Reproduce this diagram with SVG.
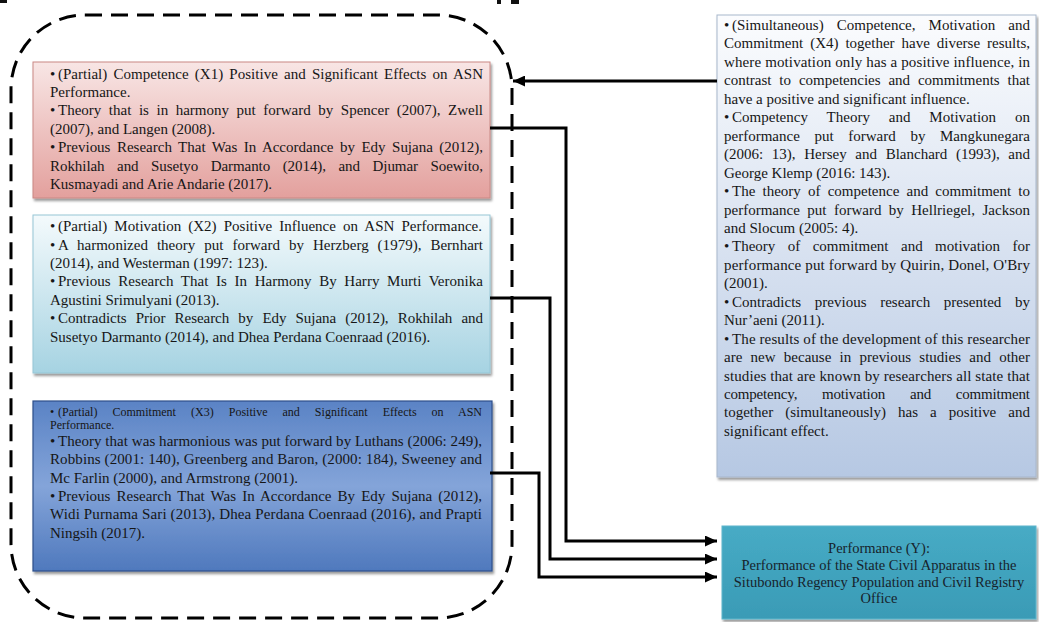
<svg xmlns="http://www.w3.org/2000/svg" width="1039" height="622" viewBox="0 0 1039 622">
<style>
.t{font-family:"Liberation Serif","Times New Roman",serif;font-size:15px;fill:#161616}
.s{font-family:"Liberation Serif","Times New Roman",serif;font-size:12px;fill:#161616}
.p{font-family:"Liberation Serif","Times New Roman",serif;font-size:14.5px;fill:#17232c;text-anchor:middle}
.ln{fill:none;stroke:#000;stroke-width:3}
</style>
<defs>
<linearGradient id="gRed" x1="0" y1="0" x2="0" y2="1"><stop offset="0" stop-color="#f8e6e5"/><stop offset="1" stop-color="#e3a09d"/></linearGradient>
<linearGradient id="gLb" x1="0" y1="0" x2="0" y2="1"><stop offset="0" stop-color="#f4fafc"/><stop offset="1" stop-color="#a6d3e2"/></linearGradient>
<linearGradient id="gDb" x1="0" y1="0" x2="0" y2="1"><stop offset="0" stop-color="#5a83c5"/><stop offset="0.5" stop-color="#84a4d9"/><stop offset="1" stop-color="#4f79bd"/></linearGradient>
<linearGradient id="gR" x1="0" y1="0" x2="0" y2="1"><stop offset="0" stop-color="#fbfcfe"/><stop offset="1" stop-color="#b6c8e3"/></linearGradient>
<linearGradient id="gP" x1="0" y1="0" x2="0" y2="1"><stop offset="0" stop-color="#47abc5"/><stop offset="1" stop-color="#3a9bb6"/></linearGradient>
<filter id="sh" x="-5%" y="-5%" width="110%" height="115%"><feDropShadow dx="1.5" dy="2.5" stdDeviation="1.2" flood-color="#000" flood-opacity="0.4"/></filter>
<marker id="ah" markerUnits="userSpaceOnUse" markerWidth="13" markerHeight="11" refX="12" refY="5.5" orient="auto"><path d="M0,0 L12,5.5 L0,11 z" fill="#000"/></marker>
</defs>
<rect width="1039" height="622" fill="#fff"/>
<g id="crop-marks" fill="#111">
<rect x="0" y="0" width="7" height="3"/><rect x="497" y="0" width="4" height="4"/><rect x="511" y="0" width="8" height="4"/>
</g>
<g id="group-outline">
<rect x="11" y="15" width="501" height="603" rx="74" fill="none" stroke="#000" stroke-width="3" stroke-dasharray="17 9"/>
</g>
<g id="node-x1">
<rect x="33" y="62" width="457" height="136" fill="url(#gRed)" stroke="#c98884" stroke-width="1" filter="url(#sh)"/>
<text class="t" x="50" y="78.5">•</text><text class="t" x="50" y="115.4">•</text><text class="t" x="50" y="152.3">•</text>
<text class="t" x="58" y="78.5" textLength="425" lengthAdjust="spacing" style="word-spacing:2.4px">(Partial) Competence (X1) Positive and Significant Effects on ASN</text>
<text class="t" x="50" y="97">Performance.</text>
<text class="t" x="58" y="115.4" textLength="425" lengthAdjust="spacing" style="word-spacing:3.8px">Theory that is in harmony put forward by Spencer (2007), Zwell</text>
<text class="t" x="50" y="133.9">(2007), and Langen (2008).</text>
<text class="t" x="58" y="152.3" textLength="425" lengthAdjust="spacing" style="word-spacing:2.75px">Previous Research That Was In Accordance by Edy Sujana (2012),</text>
<text class="t" x="50" y="170.8" textLength="433" lengthAdjust="spacing" style="word-spacing:8.8px">Rokhilah and Susetyo Darmanto (2014), and Djumar Soewito,</text>
<text class="t" x="50" y="189.2">Kusmayadi and Arie Andarie (2017).</text>
</g>
<g id="node-x2">
<rect x="33" y="215" width="457" height="158" fill="url(#gLb)" stroke="#96c6d6" stroke-width="1" filter="url(#sh)"/>
<text class="t" x="50" y="231">•</text><text class="t" x="50" y="249.5">•</text><text class="t" x="50" y="286.4">•</text><text class="t" x="50" y="323.3">•</text>
<text class="t" x="58" y="231" textLength="424" lengthAdjust="spacing" style="word-spacing:3.3px">(Partial) Motivation (X2) Positive Influence on ASN Performance.</text>
<text class="t" x="58" y="249.5" textLength="425" lengthAdjust="spacing" style="word-spacing:5.2px">A harmonized theory put forward by Herzberg (1979), Bernhart</text>
<text class="t" x="50" y="268">(2014), and Westerman (1997: 123).</text>
<text class="t" x="58" y="286.4" textLength="425" lengthAdjust="spacing" style="word-spacing:3.8px">Previous Research That Is In Harmony By Harry Murti Veronika</text>
<text class="t" x="50" y="304.8">Agustini Srimulyani (2013).</text>
<text class="t" x="58" y="323.3" textLength="425" lengthAdjust="spacing" style="word-spacing:5.5px">Contradicts Prior Research by Edy Sujana (2012), Rokhilah and</text>
<text class="t" x="50" y="341.7">Susetyo Darmanto (2014), and Dhea Perdana Coenraad (2016).</text>
</g>
<g id="node-x3">
<rect x="33" y="401" width="459" height="170" fill="url(#gDb)" stroke="#2d4f8a" stroke-width="1.2" filter="url(#sh)"/>
<text class="s" x="50" y="416">•</text><text class="t" x="50" y="446">•</text><text class="t" x="50" y="500.9">•</text>
<text class="s" x="58" y="416" textLength="424" lengthAdjust="spacing" style="word-spacing:12px">(Partial) Commitment (X3) Positive and Significant Effects on ASN</text>
<text class="s" x="50" y="428.5">Performance.</text>
<text class="t" x="58" y="446" textLength="424" lengthAdjust="spacing">Theory that was harmonious was put forward by Luthans (2006: 249),</text>
<text class="t" x="50" y="464.3" textLength="432" lengthAdjust="spacing">Robbins (2001: 140), Greenberg and Baron, (2000: 184), Sweeney and</text>
<text class="t" x="50" y="482.6">Mc Farlin (2000), and Armstrong (2001).</text>
<text class="t" x="58" y="500.9" textLength="424" lengthAdjust="spacing" style="word-spacing:2.4px">Previous Research That Was In Accordance By Edy Sujana (2012),</text>
<text class="t" x="50" y="519.2" textLength="432" lengthAdjust="spacing">Widi Purnama Sari (2013), Dhea Perdana Coenraad (2016), and Prapti</text>
<text class="t" x="50" y="537.5">Ningsih (2017).</text>
</g>
<g id="node-x4">
<rect x="717" y="15" width="319" height="462" fill="url(#gR)" stroke="#a8b7cb" stroke-width="1" filter="url(#sh)"/>
<text class="t" x="724" y="30">•</text><text class="t" x="724" y="122.25">•</text><text class="t" x="724" y="196.05">•</text><text class="t" x="724" y="251.4">•</text><text class="t" x="724" y="306.75">•</text><text class="t" x="724" y="343.65">•</text>
<text class="t" x="732" y="30" textLength="298" lengthAdjust="spacing" style="word-spacing:9.35px">(Simultaneous) Competence, Motivation and</text>
<text class="t" x="724" y="48.45" textLength="306" lengthAdjust="spacing" style="word-spacing:3.2px">Commitment (X4) together have diverse results,</text>
<text class="t" x="724" y="66.9" textLength="306" lengthAdjust="spacing">where motivation only has a positive influence, in</text>
<text class="t" x="724" y="85.35" textLength="306" lengthAdjust="spacing" style="word-spacing:4.1px">contrast to competencies and commitments that</text>
<text class="t" x="724" y="103.8">have a positive and significant influence.</text>
<text class="t" x="732" y="122.25" textLength="298" lengthAdjust="spacing" style="word-spacing:15.1px">Competency Theory and Motivation on</text>
<text class="t" x="724" y="140.7" textLength="306" lengthAdjust="spacing" style="word-spacing:10.9px">performance put forward by Mangkunegara</text>
<text class="t" x="724" y="159.15" textLength="306" lengthAdjust="spacing" style="word-spacing:4.9px">(2006: 13), Hersey and Blanchard (1993), and</text>
<text class="t" x="724" y="177.6">George Klemp (2016: 143).</text>
<text class="t" x="732" y="196.05" textLength="298" lengthAdjust="spacing" style="word-spacing:3.4px">The theory of competence and commitment to</text>
<text class="t" x="724" y="214.5" textLength="306" lengthAdjust="spacing" style="word-spacing:3.7px">performance put forward by Hellriegel, Jackson</text>
<text class="t" x="724" y="232.95">and Slocum (2005: 4).</text>
<text class="t" x="732" y="251.4" textLength="298" lengthAdjust="spacing" style="word-spacing:8.7px">Theory of commitment and motivation for</text>
<text class="t" x="724" y="269.85" textLength="306" lengthAdjust="spacing">performance put forward by Quirin, Donel, O'Bry</text>
<text class="t" x="724" y="288.3">(2001).</text>
<text class="t" x="732" y="306.75" textLength="298" lengthAdjust="spacing" style="word-spacing:9.9px">Contradicts previous research presented by</text>
<text class="t" x="724" y="325.2">Nur’aeni (2011).</text>
<text class="t" x="732" y="343.65" textLength="298" lengthAdjust="spacing">The results of the development of this researcher</text>
<text class="t" x="724" y="362.1" textLength="306" lengthAdjust="spacing" style="word-spacing:4.5px">are new because in previous studies and other</text>
<text class="t" x="724" y="380.55" textLength="306" lengthAdjust="spacing">studies that are known by researchers all state that</text>
<text class="t" x="724" y="399" textLength="306" lengthAdjust="spacing" style="word-spacing:21.2px">competency, motivation and commitment</text>
<text class="t" x="724" y="417.45" textLength="306" lengthAdjust="spacing" style="word-spacing:8.3px">together (simultaneously) has a positive and</text>
<text class="t" x="724" y="435.9">significant effect.</text>
</g>
<g id="node-y">
<rect x="722" y="526" width="314" height="93" fill="url(#gP)" stroke="#5fb6cc" stroke-width="1" filter="url(#sh)"/>
<text class="p" x="879" y="553">Performance (Y):</text>
<text class="p" x="879" y="570">Performance of the State Civil Apparatus in the</text>
<text class="p" x="879" y="587">Situbondo Regency Population and Civil Registry</text>
<text class="p" x="879" y="603">Office</text>
</g>
<g id="connectors">
<path class="ln" d="M717,81 H513" marker-end="url(#ah)"/>
<path class="ln" d="M490,128 H566 V541 H717" marker-end="url(#ah)"/>
<path class="ln" d="M490,298 H550 V559 H717" marker-end="url(#ah)"/>
<path class="ln" d="M490,473 H539 V577 H717" marker-end="url(#ah)"/>
</g>
</svg>
